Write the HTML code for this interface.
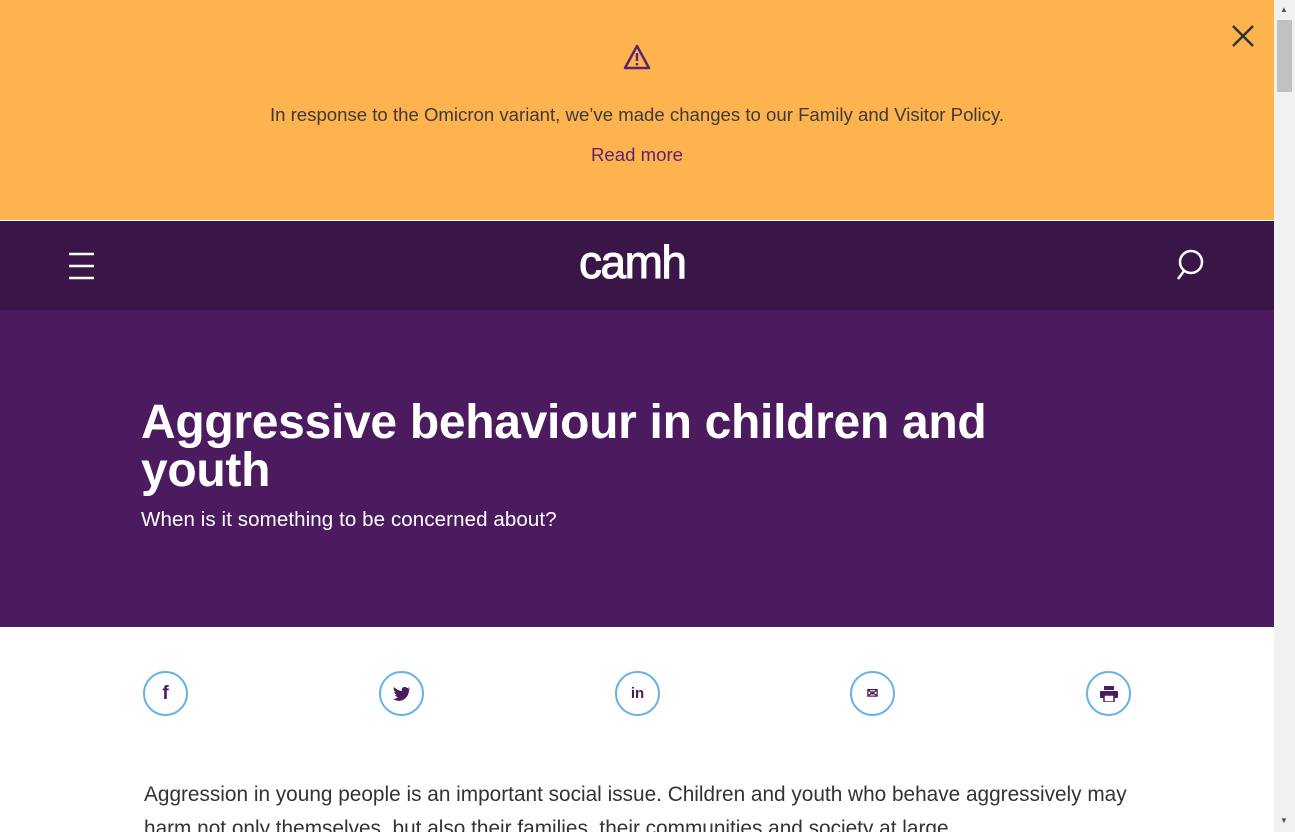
<!DOCTYPE html>
<html><head><meta charset="utf-8"><style>
*{margin:0;padding:0;box-sizing:border-box}
body{width:1295px;height:832px;overflow:hidden;font-family:"Liberation Sans",sans-serif;background:#fff;position:relative}
.page{position:absolute;left:0;top:0;width:1274px;height:832px;overflow:hidden}
.banner{position:absolute;left:0;top:0;width:1274px;height:220px;background:#FFB34F;text-align:center;color:#3b3b3b}
.banner p{position:absolute;left:0;width:100%;top:104px;font-size:18.6px}
.banner a{position:absolute;left:0;width:100%;top:144px;font-size:18.6px;color:#5a2470;text-decoration:none}
.nav{position:absolute;left:0;top:221px;width:1274px;height:89px;background:#3A1548}
.hero{position:absolute;left:0;top:310px;width:1274px;height:317px;background:#4C1A5F;color:#fff}
.hero h1{position:absolute;left:141px;top:89px;width:900px;font-size:48px;line-height:48px;font-weight:bold;letter-spacing:-0.3px}
.hero h2{position:absolute;left:141px;top:198px;font-size:20.5px;font-weight:normal;letter-spacing:0.1px}
.icon{position:absolute;top:671px;width:45px;height:45px;border:2px solid #67b2e6;border-radius:50%;display:flex;align-items:center;justify-content:center;color:#4C1A5F;font-weight:bold;font-size:17px}
.para{position:absolute;left:144px;top:778px;width:1000px;font-size:20.8px;line-height:34px;color:#333}
.sb{position:absolute;left:1274px;top:0;width:21px;height:832px;background:#f1f1f1}
.thumb{position:absolute;left:1277px;top:20px;width:15px;height:72px;background:#c1c1c1}
</style></head><body>
<div class="page">
<div class="banner">
<svg style="position:absolute;left:623px;top:43px" width="28" height="28" viewBox="0 0 28 28"><path d="M14 3 L26 25 L2 25 Z" fill="none" stroke="#5a2470" stroke-width="2.5" stroke-linejoin="round"/><rect x="12.8" y="10" width="2.4" height="8" fill="#5a2470"/><rect x="12.8" y="20" width="2.4" height="2.4" fill="#5a2470"/></svg>
<p>In response to the Omicron variant, we’ve made changes to our Family and Visitor Policy.</p>
<a>Read more</a>
<svg style="position:absolute;left:1231px;top:24px" width="24" height="24"><path d="M2 2 L22 22 M22 2 L2 22" stroke="#333" stroke-width="2.5"/></svg>
</div>
<div class="nav">
<svg style="position:absolute;left:69px;top:31px" width="26" height="28"><path d="M0 2H25M0 14H25M0 26H25" stroke="#fff" stroke-width="2.5"/></svg>
<div style="position:absolute;left:579px;top:14px;color:#fff;font-size:46px;font-weight:normal;letter-spacing:-1.5px;-webkit-text-stroke:1px #fff">camh</div>
<svg style="position:absolute;left:1175px;top:27px" width="30" height="34"><circle cx="16" cy="14" r="11" fill="none" stroke="#fff" stroke-width="2.5"/><path d="M9 23 L3 31" stroke="#fff" stroke-width="2.5"/></svg>
</div>
<div class="hero">
<h1>Aggressive behaviour in children and youth</h1>
<h2>When is it something to be concerned about?</h2>
</div>
<div class="icon" style="left:143px;font-size:19px">f</div>
<div class="icon" style="left:379px"><svg width="18" height="15" viewBox="0 0 18 15"><path d="M17 2 C16 3 15 3 15 3 C16 2 16 1 16 1 C15 2 14 2 14 2 C12 0 8 1 9 5 C6 5 3 3 1 1 C0 3 1 5 3 6 C2 6 1 6 1 5 C1 7 3 9 4 9 C3 9 2 9 2 9 C3 11 5 11 5 11 C3 13 1 13 0 13 C8 18 16 12 16 4 C17 3 17 2 17 2Z" fill="#4C1A5F"/></svg></div>
<div class="icon" style="left:615px;font-size:15px">in</div>
<div class="icon" style="left:850px;font-size:14px">✉</div>
<div class="icon" style="left:1086px"><svg width="18" height="16" viewBox="0 0 18 16"><rect x="4" y="0" width="10" height="4" fill="#4C1A5F"/><rect x="0" y="5" width="18" height="7" rx="1" fill="#4C1A5F"/><rect x="4" y="9" width="10" height="7" fill="#fff" stroke="#4C1A5F" stroke-width="1.5"/></svg></div>
<div class="para">Aggression in young people is an important social issue. Children and youth who behave aggressively may harm not only themselves, but also their families, their communities and society at large.</div>
</div>
<div class="sb"></div>
<div class="thumb"></div>
<div style="position:absolute;left:1280px;top:5px;font-size:8px;color:#505050">▲</div>
<div style="position:absolute;left:1280px;top:816px;font-size:8px;color:#505050">▼</div>
</body></html>
